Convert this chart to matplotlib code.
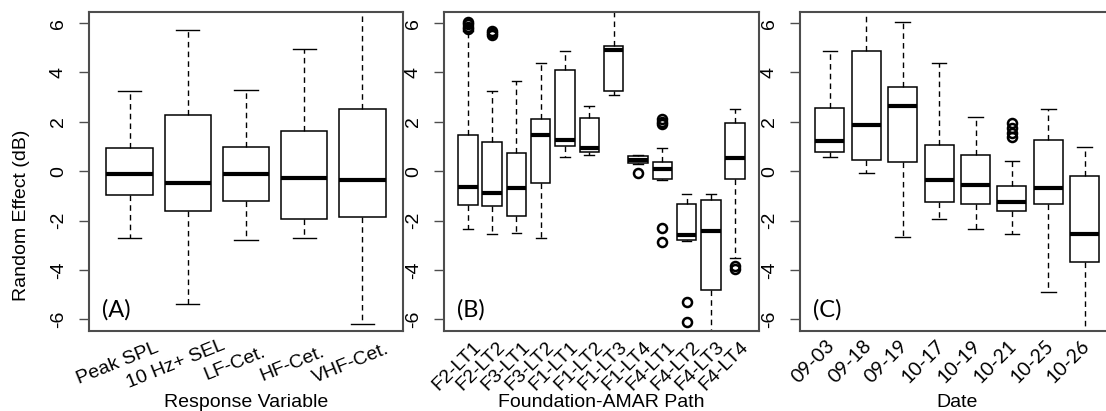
import matplotlib
matplotlib.use('Agg')
import matplotlib.pyplot as plt
import numpy as np

plt.rcParams['font.family'] = ['Liberation Sans', 'DejaVu Sans']
plt.rcParams['font.size'] = 14

# Panel A: response variables
labels_a = ["Peak SPL", "10 Hz+ SEL", "LF-Cet.", "HF-Cet.", "VHF-Cet."]
whishi_a = [3.26, 5.73, 3.28, 4.95, 7.0]
q3_a = [0.96, 2.28, 0.98, 1.64, 2.51]
med_a = [-0.11, -0.46, -0.13, -0.28, -0.36]
q1_a = [-0.96, -1.63, -1.19, -1.95, -1.85]
whislo_a = [-2.70, -5.37, -2.80, -2.72, -6.19]
fliers_a = [[], [], [], [], []]

# Panel B: foundation-AMAR paths
labels_b = ["F2-LT1", "F2-LT2", "F3-LT1", "F3-LT2", "F1-LT1", "F1-LT2",
            "F1-LT3", "F1-LT4", "F4-LT1", "F4-LT2", "F4-LT3", "F4-LT4"]
whishi_b = [5.68, 3.26, 3.67, 4.37, 4.89, 2.64, 7.0, 0.65, 0.96, -0.94, -0.94, 2.54]
q3_b = [1.47, 1.20, 0.75, 2.10, 4.11, 2.16, 5.07, 0.63, 0.36, -1.34, -1.15, 1.96]
med_b = [-0.63, -0.88, -0.66, 1.47, 1.28, 0.94, 4.93, 0.47, 0.11, -2.59, -2.43, 0.55]
q1_b = [-1.38, -1.40, -1.83, -0.49, 1.01, 0.78, 3.24, 0.33, -0.32, -2.79, -4.81, -0.32]
whislo_b = [-2.33, -2.56, -2.49, -2.70, 0.58, 0.66, 3.10, 0.31, -0.36, -2.81, -7.0, -3.53]
fliers_b = [[5.75, 5.85, 5.95, 6.05], [5.5, 5.6, 5.68], [], [], [], [], [], [-0.06],
            [1.9, 2.0, 2.1, -2.29, -2.86], [-5.31, -6.12], [], [-3.85, -3.95]]

# Panel C: dates
labels_c = ["09-03", "09-18", "09-19", "10-17", "10-19", "10-21", "10-25", "10-26"]
whishi_c = [4.87, 7.0, 6.03, 4.37, 2.21, 0.43, 2.53, 1.00]
q3_c = [2.55, 4.89, 3.40, 1.07, 0.65, -0.59, 1.28, -0.20]
med_c = [1.21, 1.89, 2.64, -0.34, -0.57, -1.23, -0.67, -2.55]
q1_c = [0.80, 0.46, 0.39, -1.24, -1.33, -1.62, -1.31, -3.69]
whislo_c = [0.58, -0.08, -2.68, -1.94, -2.32, -2.56, -4.88, -7.0]
fliers_c = [[], [], [], [], [], [1.4, 1.55, 1.75, 1.95], [], []]

yticks = [-6, -4, -2, 0, 2, 4, 6]

W, H = 1106, 411
fig = plt.figure(figsize=(W / 100, H / 100), dpi=100)
frame_col = '#4d4d4d'


def make_stats(med, q1, q3, lo, hi, fl):
    return [dict(med=m, q1=a, q3=b, whislo=l, whishi=h, fliers=f)
            for m, a, b, l, h, f in zip(med, q1, q3, lo, hi, fl)]


def panel(left_px, width_px, stats, labels, letter, xlabel, rot, dx, ylab, tick_font):
    ax = fig.add_axes([left_px / W, 80 / H, width_px / W, 319 / H])
    n = len(stats)
    pos = np.arange(1, n + 1)
    ax.bxp(stats, positions=pos, widths=0.8, patch_artist=True,
           boxprops=dict(facecolor='white', edgecolor='black', linewidth=1.1),
           medianprops=dict(color='black', linewidth=3.0, solid_capstyle='butt'),
           whiskerprops=dict(color='black', linewidth=1.0, linestyle=(0, (4, 3))),
           capprops=dict(color='black', linewidth=1.0),
           flierprops=dict(marker='o', markerfacecolor='none', markeredgecolor='black',
                           markersize=6.5, markeredgewidth=1.8))
    pad = 0.04 * n
    ax.set_xlim(0.5 - pad, n + 0.5 + pad)
    ax.set_ylim(-6.47, 6.45)
    ax.set_xticks([])
    ax.set_yticks(yticks)
    ax.set_yticklabels([str(v) for v in yticks], rotation=90, va='center')
    ax.tick_params(axis='y', direction='out', length=7, width=1, color=frame_col, pad=9)
    for s in ax.spines.values():
        s.set_color(frame_col)
        s.set_linewidth(1.5)
    for p, lab in zip(pos, labels):
        ax.text(p - dx, ylab, lab, rotation=rot, ha='center', va='center',
                transform=ax.get_xaxis_transform(), clip_on=False, family=tick_font)
    ax.text(0.041, 0.066, letter, transform=ax.transAxes, fontsize=17,
            family=['Lato', 'DejaVu Sans'], ha='left', va='center')
    ax.text(0.5, -0.223, xlabel, transform=ax.transAxes, ha='center', va='center',
            fontsize=14)
    return ax


panel(89, 314, make_stats(med_a, q1_a, q3_a, whislo_a, whishi_a, fliers_a),
      labels_a, '(A)', 'Response Variable', 22, 0.2, -0.103, ['Liberation Sans'])
panel(444, 315, make_stats(med_b, q1_b, q3_b, whislo_b, whishi_b, fliers_b),
      labels_b, '(B)', 'Foundation-AMAR Path', 45, 0.45, -0.11, ['Liberation Sans'])
panel(800, 314.6, make_stats(med_c, q1_c, q3_c, whislo_c, whishi_c, fliers_c),
      labels_c, '(C)', 'Date', 45, 0.45, -0.097, ['Lato', 'DejaVu Sans'])

fig.text(22 / W, (H - 215) / H, 'Random Effect (dB)', rotation=90,
         ha='center', va='center', fontsize=14)

fig.savefig('out.png', dpi=100, facecolor='white')
